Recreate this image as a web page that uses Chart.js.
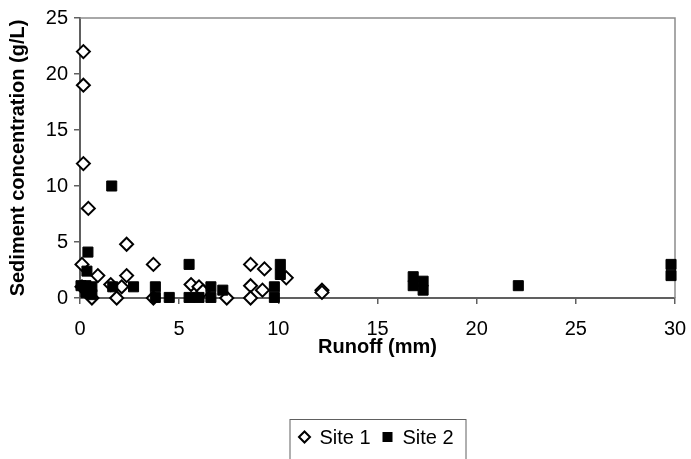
<!DOCTYPE html>
<html>
<head>
<meta charset="utf-8">
<script src="https://cdn.jsdelivr.net/npm/chart.js@4/dist/chart.umd.min.js"></script>
<style>
  html, body { margin:0; padding:0; background:#fff; }
  #wrap { position:relative; width:691px; height:459px; }
</style>
</head>
<body>
<div id="wrap"><canvas id="chart"></canvas></div>
<script>
// runoff (mm) vs sediment concentration (g/L)
const site1X = [0.17,0.17,0.17,0.42,2.35,0.1,3.7,0.9,2.35,1.55,2.1,0.1,0.6,1.85,3.7,5.6,6.0,6.2,7.4,8.6,9.3,10.4,8.6,9.2,8.6,12.2,12.2];
const site1Y = [22,19,12,8,4.8,3,3,2,2,1.2,1,1,0,0,0,1.2,1.0,0.6,0,3,2.6,1.8,1.1,0.7,0,0.7,0.5];
const site2X = [1.6,0.4,0.35,0.05,0.3,0.6,0.3,0.6,1.65,2.7,3.8,3.8,4.5,5.5,5.5,6.0,6.6,6.6,7.2,10.1,10.1,9.8,9.8,16.8,16.8,17.3,17.3,22.1,29.8,29.8];
const site2Y = [10,4.1,2.4,1.1,1.1,1.0,0.5,0.3,1.0,1.0,1.0,0.05,0.05,3.0,0.05,0.05,1.0,0.05,0.7,3.0,2.1,1.0,0.05,1.9,1.1,1.5,0.7,1.1,3.0,2.0];
const seriesNames = ['Site 1', 'Site 2'];
const xTitle = 'Runoff (mm)';
const yTitle = 'Sediment concentration (g/L)';

const FONT = "'Liberation Sans', Arial, sans-serif";
const pts = (xs, ys) => xs.map((x, i) => ({ x, y: ys[i] }));

// grey frame round the plot area
const frame = {
  id: 'frame',
  beforeDatasetsDraw(chart) {
    const { ctx, chartArea: a } = chart;
    ctx.save();
    ctx.strokeStyle = '#8c8c8c';
    ctx.lineWidth = 1.5;
    ctx.beginPath();
    ctx.moveTo(a.left, a.top); ctx.lineTo(a.right, a.top); ctx.lineTo(a.right, a.bottom);
    ctx.stroke();
    ctx.restore();
  }
};

// boxed legend under the x title
const boxLegend = {
  id: 'boxLegend',
  afterDraw(chart) {
    const { ctx, chartArea: a } = chart;
    const cx = (a.left + a.right) / 2;
    const w = 176, top = chart.height - 40, cy = top + 18;
    const l = cx - w / 2;
    ctx.save();
    ctx.strokeStyle = '#606060';
    ctx.lineWidth = 1;
    ctx.strokeRect(l + 0.5, top + 0.5, w, 60);
    // diamond
    ctx.lineWidth = 2;
    ctx.strokeStyle = '#000';
    ctx.fillStyle = '#fff';
    const dx = l + 15, r = 5.5;
    ctx.beginPath();
    ctx.moveTo(dx - r, cy); ctx.lineTo(dx, cy - r); ctx.lineTo(dx + r, cy); ctx.lineTo(dx, cy + r); ctx.closePath();
    ctx.fill(); ctx.stroke();
    ctx.fillStyle = '#000';
    ctx.font = '20px ' + FONT;
    ctx.textBaseline = 'middle';
    ctx.fillText(seriesNames[0], l + 30, cy + 1);
    // square
    const sx = l + 98;
    ctx.fillRect(sx - 5, cy - 5, 10, 10);
    ctx.fillText(seriesNames[1], l + 113, cy + 1);
    ctx.restore();
  }
};

new Chart(document.getElementById('chart'), {
  type: 'scatter',
  data: {
    datasets: [
      { label: seriesNames[0], data: pts(site1X, site1Y), pointStyle: 'rectRot', pointRadius: 6.5,
        pointBorderWidth: 2, borderColor: '#000', backgroundColor: '#fff', order: 1, clip: false },
      { label: seriesNames[1], data: pts(site2X, site2Y), pointStyle: 'rect', pointRadius: 7.1,
        pointBorderWidth: 1, borderColor: '#000', backgroundColor: '#000', order: 0, clip: false }
    ]
  },
  options: {
    responsive: true, maintainAspectRatio: false, animation: false,
    layout: { padding: { top: 18, right: 16, left: 0, bottom: 100 } },
    plugins: { legend: { display: false }, tooltip: { enabled: false } },
    scales: {
      x: {
        min: 0, max: 30,
        ticks: { stepSize: 5, color: '#000', font: { family: FONT, size: 20 }, padding: 13, maxRotation: 0 },
        grid: { drawOnChartArea: false, tickLength: 6, color: '#606060', lineWidth: 1.5 },
        border: { color: '#606060', width: 2 },
        title: { display: true, text: xTitle, color: '#000', font: { family: FONT, size: 20, weight: 'bold' }, padding: { top: 4, bottom: 0 } },
        // fixed height; the end labels may hang past the plot edges
        afterFit: s => { s.height = 61; s.paddingLeft = 0; s.paddingRight = 0; }
      },
      y: {
        min: 0, max: 25,
        ticks: { stepSize: 5, color: '#000', font: { family: FONT, size: 20 }, padding: 6 },
        grid: { drawOnChartArea: false, tickLength: 6, color: '#606060', lineWidth: 1.5 },
        border: { color: '#606060', width: 2 },
        title: { display: true, text: yTitle, color: '#000', font: { family: FONT, size: 20, weight: 'bold' }, padding: { top: 6, bottom: 4 } },
        afterFit: s => { s.width = 80; }
      }
    }
  },
  plugins: [frame, boxLegend]
});
</script>
</body>
</html>
